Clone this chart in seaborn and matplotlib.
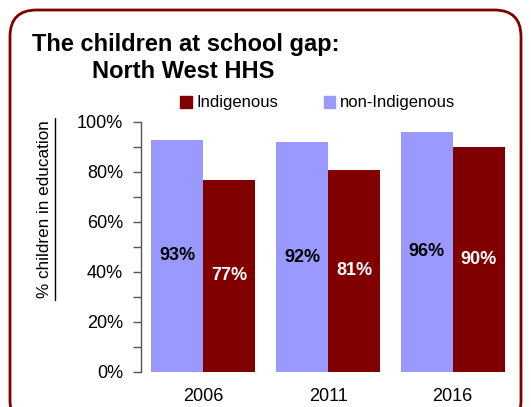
import matplotlib
matplotlib.use("Agg")
import matplotlib.pyplot as plt
import seaborn as sns
import pandas as pd
from matplotlib.patches import FancyBboxPatch, Patch
from matplotlib.lines import Line2D
from matplotlib.ticker import MultipleLocator, PercentFormatter

years = ["2006", "2011", "2016"]
non_indigenous = [93, 92, 96]
indigenous = [77, 81, 90]
groups = ["non-Indigenous", "Indigenous"]
colors = {"non-Indigenous": "#9999FF", "Indigenous": "#800000"}

df = pd.DataFrame({
    "year": years * 2,
    "group": ["non-Indigenous"] * 3 + ["Indigenous"] * 3,
    "value": non_indigenous + indigenous,
})

sns.set_style("white")
plt.rcParams["font.family"] = ["Liberation Sans", "DejaVu Sans"]
plt.rcParams["text.color"] = "black"
plt.rcParams["xtick.color"] = "black"
plt.rcParams["ytick.color"] = "black"

W, H = 531, 407
fig = plt.figure(figsize=(W / 100, H / 100), dpi=100)
ax = fig.add_axes([141 / W, 1 - 372 / H, (515 - 141) / W, (372 - 122) / H])

sns.barplot(data=df, x="year", y="value", hue="group", hue_order=groups,
            palette=colors, width=0.835, ax=ax, legend=False, saturation=1,
            linewidth=0, edgecolor="none")

for cont, grp in zip(ax.containers, groups):
    vals = non_indigenous if grp == "non-Indigenous" else indigenous
    ax.bar_label(cont, labels=[f"{v}%" for v in vals], label_type="center",
                 fontsize=13, fontweight="bold",
                 color="black" if grp == "non-Indigenous" else "white")

ax.set_ylim(0, 100)
ax.set_xlim(-0.5, 2.5)
ax.yaxis.set_major_locator(MultipleLocator(20))
ax.yaxis.set_minor_locator(MultipleLocator(10))
ax.yaxis.set_major_formatter(PercentFormatter(decimals=0))
ax.tick_params(axis="y", which="both", left=True, length=6, width=1, color="#555555",
               labelsize=13, pad=7, direction="out", labelcolor="black")
ax.tick_params(axis="x", bottom=False, labelsize=13, pad=8, labelcolor="black")
for s in ["top", "right", "bottom"]:
    ax.spines[s].set_visible(False)
ax.spines["left"].set_color("#555555")
ax.spines["left"].set_linewidth(1)
ax.set_xlabel("")
ax.set_ylabel("")

# y label with underline
fig.text(45 / W, 1 - 209 / H, "% children in education", rotation=90,
         ha="center", va="center", fontsize=12.3)
fig.add_artist(Line2D([55 / W, 55 / W], [1 - 118 / H, 1 - 300 / H],
                      transform=fig.transFigure, color="black", lw=1))

# title
fig.text(32 / W, 1 - 44 / H, "The children at school gap:", fontsize=17,
         fontweight="bold", ha="left", va="center")
fig.text(92 / W, 1 - 72 / H, "North West HHS", fontsize=17,
         fontweight="bold", ha="left", va="center")

# legend
handles = [Patch(color=colors["Indigenous"], label="Indigenous"),
           Patch(color=colors["non-Indigenous"], label="non-Indigenous")]
fig.legend(handles=handles, loc="center left", bbox_to_anchor=(165 / W, 1 - 103 / H),
           ncol=2, frameon=False, fontsize=12, handlelength=0.7, handleheight=0.7,
           handletextpad=0.3, columnspacing=2.7)

# border
fig.patches.append(FancyBboxPatch((10 / W, -20 / H), 511 / W, (417) / H,
                                  boxstyle="round,pad=0,rounding_size=0.05",
                                  transform=fig.transFigure, fill=False,
                                  edgecolor="#800000", lw=2, mutation_aspect=W / H))

fig.savefig("out.png", dpi=100)
